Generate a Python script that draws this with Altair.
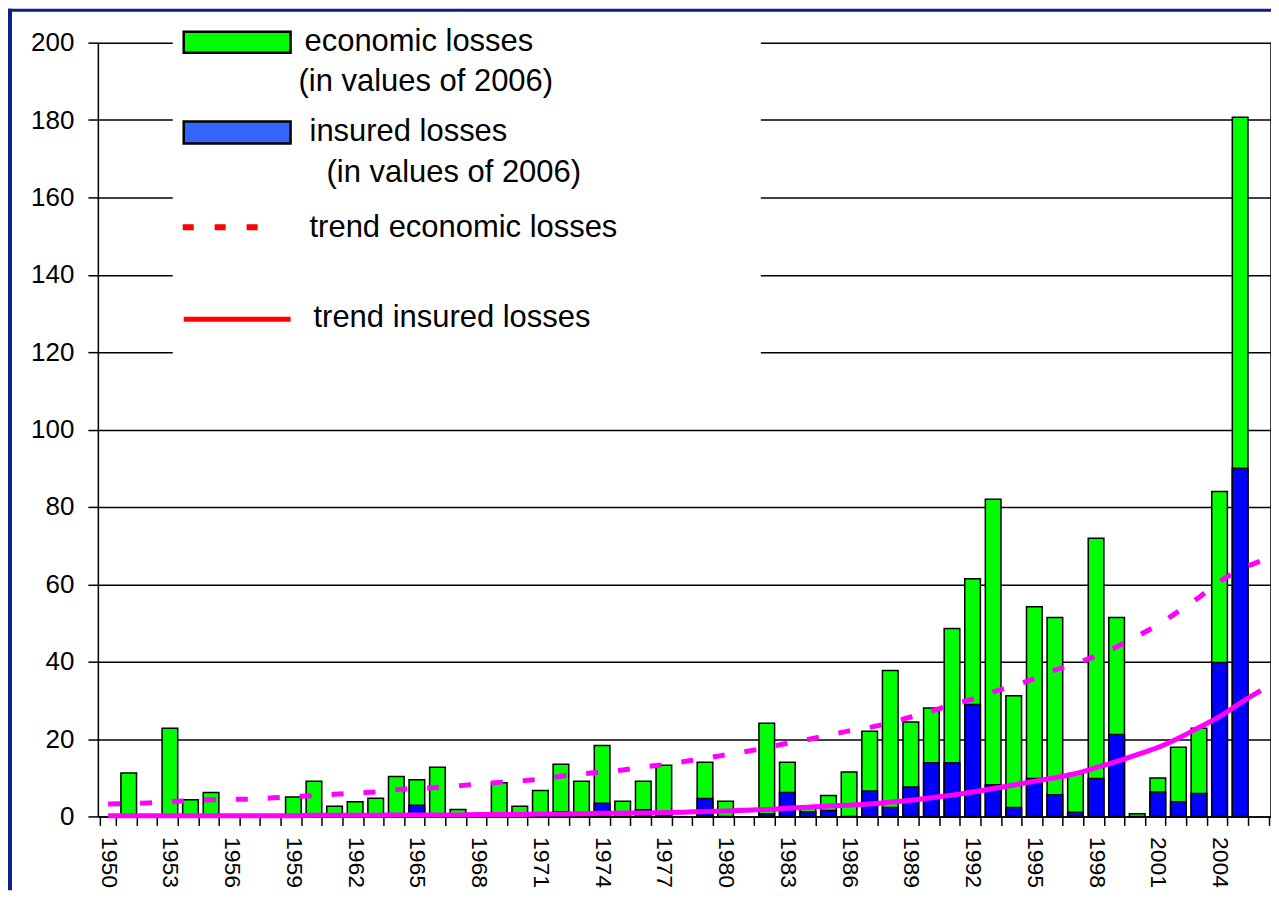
import altair as alt
import pandas as pd

# ---------------- data ----------------
years = list(range(1950, 2007))          # x categories (2006 slot is empty)
bar_years = list(range(1950, 2006))

economic_losses = [
    0.0, 11.2, 0.0, 22.8, 4.3, 6.2, 0.0, 0.0, 0.0, 5.0,
    9.1, 2.6, 3.8, 4.7, 10.3, 9.5, 12.7, 1.8, 0.0, 8.7,
    2.6, 6.7, 13.5, 9.1, 18.3, 3.9, 9.1, 13.2, 0.0, 14.0,
    3.9, 0.0, 24.1, 14.0, 2.6, 5.4, 11.5, 22.0, 37.7, 24.4,
    28.0, 48.6, 61.4, 82.0, 31.2, 54.2, 51.4, 11.1, 71.9, 51.4,
    0.7, 9.9, 17.9, 22.8, 84.0, 180.7,
]
insured_losses = [
    0.0, 0.0, 0.0, 0.0, 0.0, 0.0, 0.0, 0.0, 0.0, 0.0,
    0.0, 0.0, 0.0, 0.0, 0.0, 2.9, 0.0, 0.0, 0.0, 0.0,
    0.5, 0.0, 1.2, 0.0, 3.4, 0.0, 1.7, 0.3, 0.0, 4.6,
    0.0, 0.0, 0.7, 6.2, 1.2, 1.5, 0.0, 6.6, 2.3, 7.6,
    13.9, 13.9, 28.9, 8.2, 2.3, 9.8, 5.6, 1.1, 9.8, 21.2,
    0.0, 6.3, 3.8, 5.9, 39.8, 90.0,
]
trend_economic = [
    3.2, 3.3, 3.5, 3.8, 4.1, 4.3, 4.4, 4.5, 4.8, 5.1,
    5.4, 5.7, 6.0, 6.3, 6.9, 7.2, 7.5, 7.9, 8.4, 8.8,
    9.2, 9.6, 10.4, 11.0, 11.5, 12.0, 12.8, 13.4, 14.2, 15.0,
    15.9, 16.8, 17.8, 18.9, 19.9, 21.0, 22.1, 23.0, 24.2, 25.7,
    27.2, 28.9, 30.3, 32.2, 33.8, 35.6, 37.8, 39.5, 41.5, 43.8,
    46.6, 49.5, 53.0, 56.6, 60.7, 63.8, 66.0,
]
trend_insured = [
    0.2, 0.2, 0.2, 0.2, 0.2, 0.2, 0.2, 0.2, 0.2, 0.2,
    0.3, 0.3, 0.3, 0.3, 0.4, 0.4, 0.4, 0.4, 0.5, 0.5,
    0.5, 0.6, 0.6, 0.7, 0.8, 0.9, 0.9, 1.0, 1.1, 1.3,
    1.4, 1.6, 1.8, 2.1, 2.4, 2.7, 2.9, 3.2, 3.7, 4.2,
    4.8, 5.5, 6.3, 7.2, 8.1, 9.1, 10.0, 11.1, 12.6, 14.2,
    16.0, 17.8, 20.2, 23.0, 25.8, 29.3, 32.5,
]
y_ticks = [0, 20, 40, 60, 80, 100, 120, 140, 160, 180, 200]
legend_labels = [
    "economic losses",
    "(in values of 2006)",
    "insured losses",
    "(in values of 2006)",
    "trend economic losses",
    "trend insured losses",
]

bars_df = pd.DataFrame({"year": bar_years, "economic": economic_losses,
                        "insured": insured_losses})
trend_df = pd.DataFrame({"year": years, "trend_economic": trend_economic,
                         "trend_insured": trend_insured})

# ---------------- layout / style ----------------
W, H = 1175, 775
FONT = "Liberation Sans"
GREEN = "#00FF00"
BLUE = "#0000FF"
LEG_BLUE = "#3366FF"
MAGENTA = "#FF00FF"
NAVY = "#0F1F8A"

x_axis = alt.Axis(
    title=None, labelAngle=90, labelAlign="left", labelBaseline="middle",
    labelFont=FONT, labelFontSize=23, labelColor="black", labelPadding=11,
    labelExpr="(datum.value - 1950) % 3 === 0 && datum.value < 2006 ? datum.value : ''",
    tickBand="extent", tickSize=9, tickColor="black", tickWidth=1.5,
    domainColor="black", domainWidth=1.5, grid=False, labelOverlap=False,
)
y_axis = alt.Axis(
    title=None, values=y_ticks, labelFont=FONT, labelFontSize=26,
    labelColor="black", labelPadding=14, tickSize=10, tickColor="black",
    tickWidth=1.5, domainColor="black", domainWidth=1.5,
    grid=True, gridColor="black", gridWidth=1.5, gridOpacity=1,
)
x_scale = alt.Scale(domain=years, paddingInner=0.24, paddingOuter=0.12)
y_scale = alt.Scale(domain=[0, 200], nice=False)


def X():
    return alt.X("year:O", scale=x_scale, axis=x_axis)


def Y(field):
    return alt.Y(field, type="quantitative", scale=y_scale, axis=y_axis)


green_bars = alt.Chart(bars_df).transform_filter("datum.economic > 0").mark_bar(
    color=GREEN, stroke="black", strokeWidth=1.5
).encode(x=X(), y=Y("economic"))

blue_bars = alt.Chart(bars_df).transform_filter("datum.insured > 0").mark_bar(
    color=BLUE, stroke="black", strokeWidth=1.5
).encode(x=X(), y=Y("insured"))

trend_e = alt.Chart(trend_df).mark_line(
    color=MAGENTA, strokeWidth=5, strokeDash=[12, 20], interpolate="monotone"
).encode(x=X(), y=Y("trend_economic"))

trend_i = alt.Chart(trend_df).mark_line(
    color=MAGENTA, strokeWidth=5, interpolate="monotone"
).encode(x=X(), y=Y("trend_insured"))

one = alt.Data(values=[{}])

right_border = alt.Chart(one).mark_rule(color="black", strokeWidth=1.5).encode(
    x=alt.value(W), y=alt.value(0), y2=alt.value(H))

legend_bg = alt.Chart(one).mark_rect(color="white").encode(
    x=alt.value(75), x2=alt.value(664), y=alt.value(-22), y2=alt.value(318))

sw_green = alt.Chart(one).mark_rect(color=GREEN, stroke="black", strokeWidth=2.5).encode(
    x=alt.value(86), x2=alt.value(193), y=alt.value(-11), y2=alt.value(10))
sw_blue = alt.Chart(one).mark_rect(color=LEG_BLUE, stroke="black", strokeWidth=2.5).encode(
    x=alt.value(86), x2=alt.value(193), y=alt.value(79), y2=alt.value(101))
sw_dash = alt.Chart(one).mark_rule(color="#FF0000", strokeWidth=6, strokeDash=[11, 21]).encode(
    x=alt.value(85), x2=alt.value(162), y=alt.value(185))
sw_line = alt.Chart(one).mark_rule(color="#FF0000", strokeWidth=5).encode(
    x=alt.value(86), x2=alt.value(193), y=alt.value(277))

label_pos = [(207, 8), (201, 48), (212, 99), (229, 140), (212, 195), (216, 285)]
legend_texts = [
    alt.Chart(one).mark_text(font=FONT, fontSize=31, color="black",
                             align="left", baseline="alphabetic").encode(
        x=alt.value(px), y=alt.value(py), text=alt.value(lbl))
    for lbl, (px, py) in zip(legend_labels, label_pos)
]

navy_left = alt.Chart(one).mark_rect(color=NAVY).encode(
    x=alt.value(-90), x2=alt.value(-86), y=alt.value(-34), y2=alt.value(H + 74))
navy_top = alt.Chart(one).mark_rect(color=NAVY).encode(
    x=alt.value(-90), x2=alt.value(W), y=alt.value(-34), y2=alt.value(-31))

chart = alt.layer(
    green_bars, blue_bars, trend_e, trend_i, right_border,
    legend_bg, sw_green, sw_blue, sw_dash, sw_line, *legend_texts,
    navy_left, navy_top,
).properties(
    width=W, height=H,
    autosize=alt.AutoSizeParams(type="none"),
    padding={"left": 90, "top": 34, "right": 0, "bottom": 74},
    background="white",
).configure_view(strokeWidth=0)

chart.save("out.html", embed_options={"renderer": "svg", "actions": False})
